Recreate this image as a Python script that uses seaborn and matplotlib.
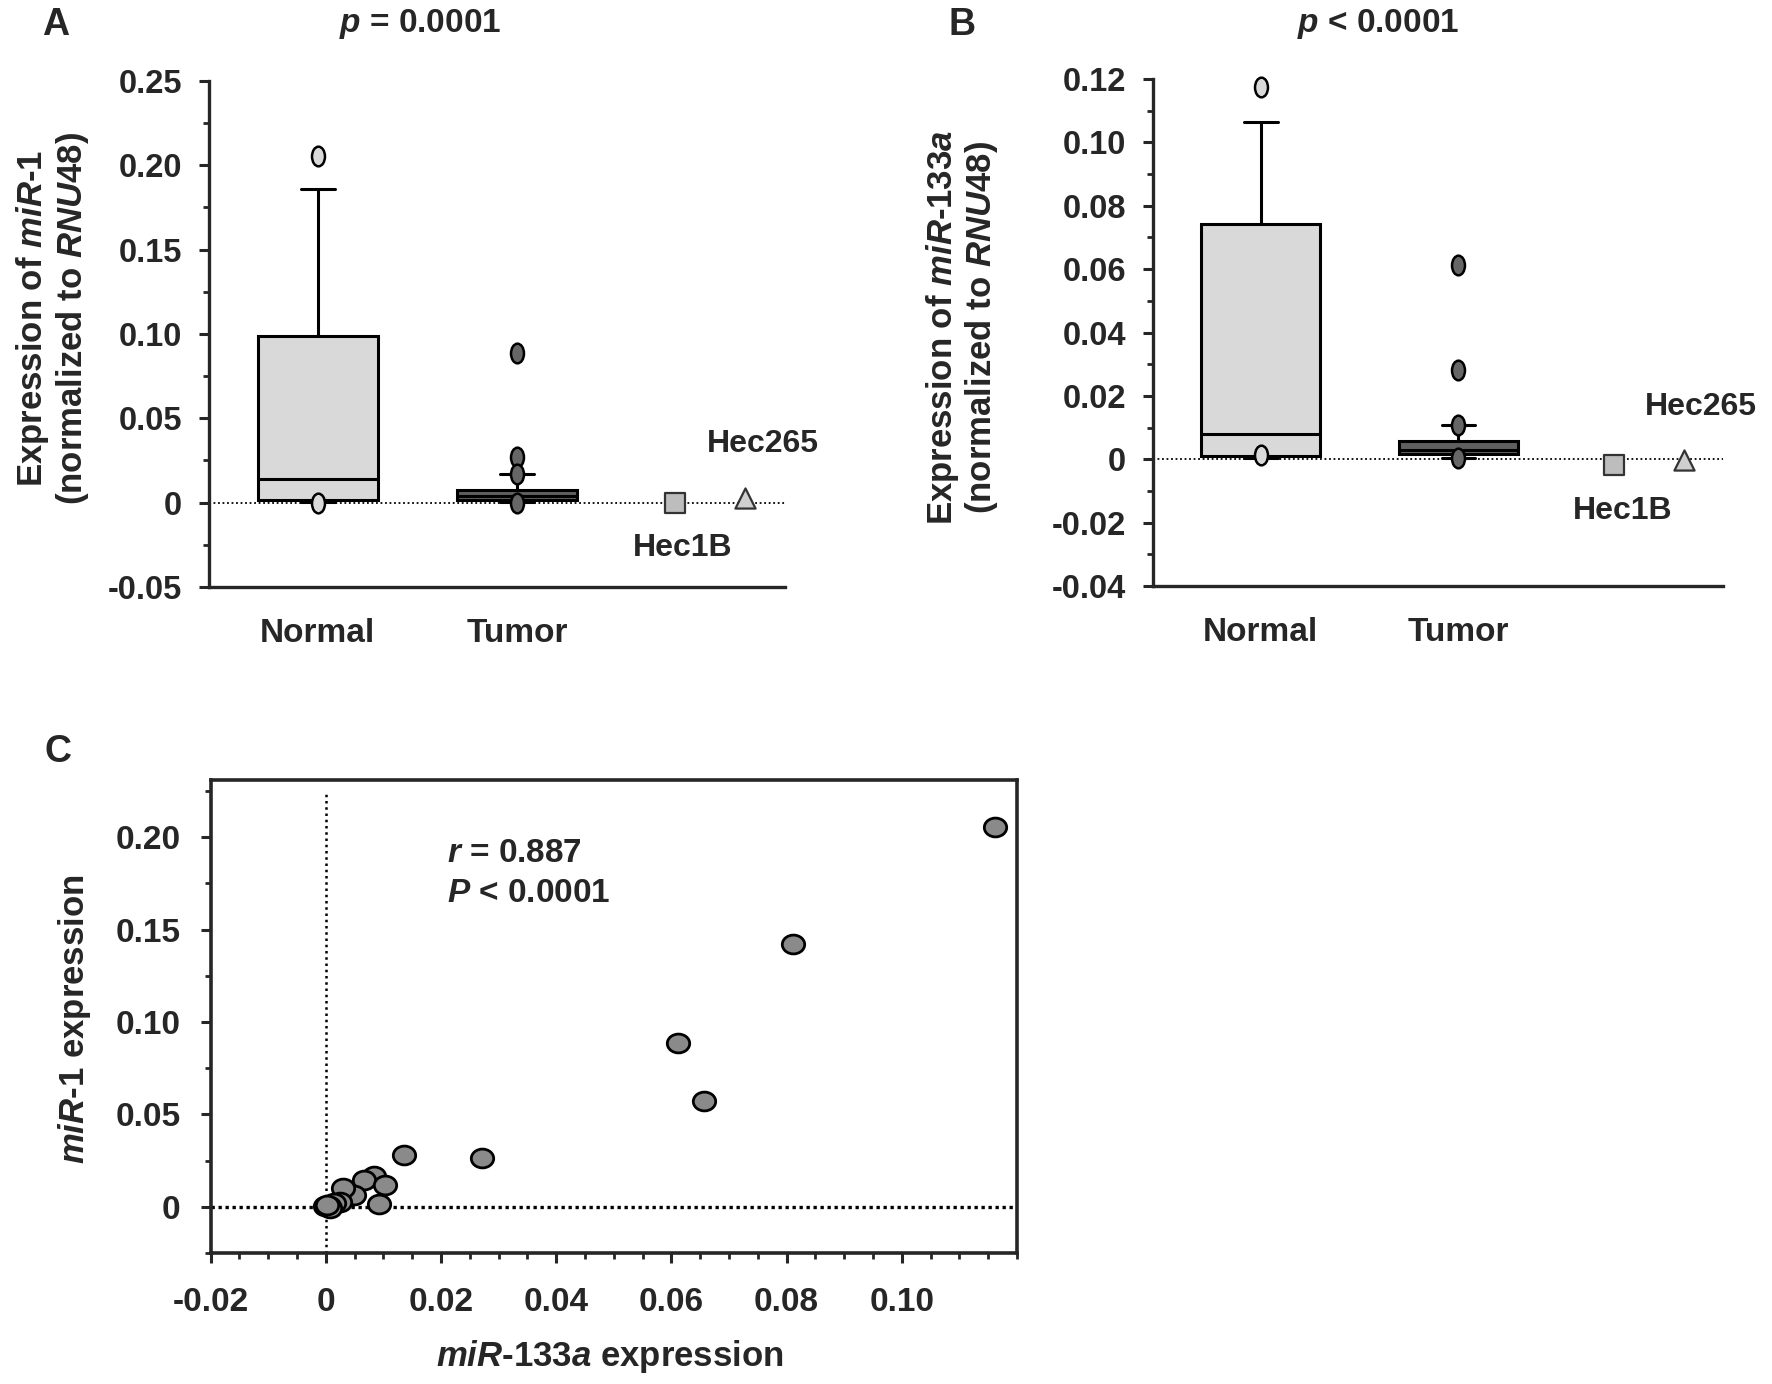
import matplotlib
matplotlib.use('Agg')
import matplotlib.pyplot as plt
from matplotlib.path import Path
import seaborn as sns

# ---- data ----
groups = ['Normal', 'Tumor']
group_pos = [1.0, 2.0]
cell_lines = ['Hec1B', 'Hec265']
cell_pos = [2.79, 3.14]

# panel A, miR-1 (box statistics)
mir1_q1 = [0.0015, 0.0015]
mir1_med = [0.0142, 0.0040]
mir1_q3 = [0.0990, 0.0075]
mir1_lo = [0.0003, 0.0003]
mir1_hi = [0.1860, 0.0168]
mir1_out_normal = [0.2055, 0.0]
mir1_out_tumor = [0.0886, 0.0273, 0.0170, -0.0005]
mir1_cells = [0.0000, 0.0030]
mir1_ticks = [-0.05, 0, 0.05, 0.10, 0.15, 0.20, 0.25]
mir1_ticklabels = ['-0.05', '0', '0.05', '0.10', '0.15', '0.20', '0.25']

# panel B, miR-133a
mir133_q1 = [0.0011, 0.0016]
mir133_med = [0.0080, 0.0028]
mir133_q3 = [0.0741, 0.0058]
mir133_lo = [0.0004, 0.0003]
mir133_hi = [0.1065, 0.0107]
mir133_out_normal = [0.1175, 0.0014]
mir133_out_tumor = [0.0612, 0.0281, 0.0107, 0.0004]
mir133_cells = [-0.0018, -0.0003]
mir133_ticks = [-0.04, -0.02, 0, 0.02, 0.04, 0.06, 0.08, 0.10, 0.12]
mir133_ticklabels = ['-0.04', '-0.02', '0', '0.02', '0.04', '0.06', '0.08', '0.10', '0.12']

# panel C, correlation
scatter_mir133 = [0.1162, 0.0812, 0.0612, 0.0656, 0.0272, 0.0136, 0.0083, 0.0067,
                  0.0103, 0.0093, 0.0049, 0.0030, 0.0025, 0.0014, 0.0006, -0.0002,
                  0.0007, 0.0003]
scatter_mir1 = [0.2055, 0.1422, 0.0884, 0.0573, 0.0263, 0.0281, 0.0167, 0.0142,
                0.0115, 0.0013, 0.0065, 0.0099, 0.0025, 0.0020, 0.0005, 0.0006,
                -0.0005, 0.0012]
c_xticks = [-0.02, 0, 0.02, 0.04, 0.06, 0.08, 0.10]
c_xticklabels = ['-0.02', '0', '0.02', '0.04', '0.06', '0.08', '0.10']
c_yticks = [0, 0.05, 0.10, 0.15, 0.20]
c_yticklabels = ['0', '0.05', '0.10', '0.15', '0.20']

box_fills = ['#d9d9d9', '#5f5f5f']
flier_fills = ['#d9d9d9', '#666666']

sns.set_style('ticks')
plt.rcParams['font.family'] = ['Liberation Sans', 'DejaVu Sans']
plt.rcParams['font.weight'] = 'bold'
plt.rcParams['mathtext.fontset'] = 'custom'
plt.rcParams['mathtext.it'] = 'Liberation Sans:italic:bold'
plt.rcParams['mathtext.rm'] = 'Liberation Sans:bold'
plt.rcParams['mathtext.bf'] = 'Liberation Sans:bold'
plt.rcParams['axes.linewidth'] = 2.2

# ellipse markers (outliers are tall, scatter dots are a bit wide)
circ = Path.unit_circle()
tall_ellipse = Path(circ.vertices * [0.66, 1.0], circ.codes)
wide_ellipse = Path(circ.vertices * [1.0, 0.84], circ.codes)

fig = plt.figure(figsize=(17.72, 13.84), dpi=100)
axA = fig.add_axes([0.1179, 0.5759, 0.3250, 0.3656])
axB = fig.add_axes([0.6507, 0.5766, 0.3217, 0.3663])
axC = fig.add_axes([0.1188, 0.0947, 0.4551, 0.3418])


def box_panel(ax, q1, med, q3, lo, hi, out_normal, out_tumor, cells,
              ticks, ticklabels, minor_step, ylabel, hec265_y, hec1b_y):
    for i, g in enumerate(groups):
        st = dict(label=g, q1=q1[i], med=med[i], q3=q3[i],
                  whislo=lo[i], whishi=hi[i], fliers=[])
        ax.bxp([st], positions=[group_pos[i]], widths=0.6, capwidths=0.17,
               patch_artist=True, showfliers=False,
               boxprops=dict(facecolor=box_fills[i], edgecolor='black', linewidth=2.2),
               medianprops=dict(color='black', linewidth=2.2),
               whiskerprops=dict(color='black', linewidth=2.2),
               capprops=dict(color='black', linewidth=2.2))
    for vals, pos, fill in [(out_normal, group_pos[0], flier_fills[0]),
                            (out_tumor, group_pos[1], flier_fills[1])]:
        sns.scatterplot(x=[pos] * len(vals), y=vals, marker=tall_ellipse, s=200,
                        color=fill, edgecolor='black', linewidth=1.8,
                        ax=ax, zorder=4, legend=False, clip_on=False)
    sns.scatterplot(x=[cell_pos[0]], y=[cells[0]], marker='s', s=190, color='#bdbdbd',
                    edgecolor='#333333', linewidth=1.6, ax=ax, zorder=4, legend=False)
    sns.scatterplot(x=[cell_pos[1]], y=[cells[1]], marker='^', s=210, color='#cfcfcf',
                    edgecolor='#333333', linewidth=1.6, ax=ax, zorder=4, legend=False)
    ax.axhline(0, color='black', lw=1.3, ls=(0, (1, 1.5)), zorder=1)

    ax.set_xlim(0.455, 3.34)
    ax.set_ylim(ticks[0], ticks[-1])
    ax.set_xticks(group_pos)
    ax.set_xticklabels(groups, fontsize=24, fontweight='bold')
    ax.tick_params(axis='x', length=0, pad=22)
    ax.set_yticks(ticks)
    ax.set_yticklabels(ticklabels, fontsize=23.5, fontweight='bold')
    minor = []
    v = ticks[0]
    while v < ticks[-1]:
        minor.append(v + minor_step)
        v += 2 * minor_step
    ax.set_yticks(minor, minor=True)
    ax.tick_params(axis='y', which='major', length=7.5, width=2.2, pad=12)
    ax.tick_params(axis='y', which='minor', length=4, width=2.0)
    sns.despine(ax=ax)
    ax.spines['left'].set_linewidth(2.4)
    ax.spines['bottom'].set_linewidth(2.4)
    ax.set_ylabel(ylabel, fontsize=25, fontweight='bold', linespacing=1.1, va='center')
    ax.text(3.23, hec265_y, 'Hec265', fontsize=23, fontweight='bold', ha='center', va='center')
    ax.text(2.83, hec1b_y, 'Hec1B', fontsize=23, fontweight='bold', ha='center', va='center')


box_panel(axA, mir1_q1, mir1_med, mir1_q3, mir1_lo, mir1_hi, mir1_out_normal,
          mir1_out_tumor, mir1_cells, mir1_ticks, mir1_ticklabels, 0.025,
          'Expression of $\\mathit{miR}$-$\\mathit{1}$\n(normalized to $\\mathit{RNU48}$)',
          0.035, -0.027)
axA.yaxis.set_label_coords(-0.272, 0.53)

box_panel(axB, mir133_q1, mir133_med, mir133_q3, mir133_lo, mir133_hi, mir133_out_normal,
          mir133_out_tumor, mir133_cells, mir133_ticks, mir133_ticklabels, 0.01,
          'Expression of $\\mathit{miR}$-$\\mathit{133a}$\n(normalized to $\\mathit{RNU48}$)',
          0.0164, -0.0164)
axB.yaxis.set_label_coords(-0.335, 0.51)

# panel C
sns.scatterplot(x=scatter_mir133, y=scatter_mir1, marker=wide_ellipse, s=260,
                color='#8a8a8a', edgecolor='black', linewidth=2.0, ax=axC,
                zorder=4, legend=False)
c_ylim = (-0.025, 0.231)
axC.set_xlim(-0.02, 0.12)
axC.set_ylim(*c_ylim)
axC.axhline(0, color='black', lw=2.4, ls=(0, (1, 1.1)), zorder=1)
axC.axvline(0, ymin=0, ymax=(0.225 - c_ylim[0]) / (c_ylim[1] - c_ylim[0]),
            color='black', lw=1.8, ls=(0, (1, 1.5)), zorder=1)
axC.set_xticks(c_xticks)
axC.set_xticklabels(c_xticklabels, fontsize=24, fontweight='bold')
axC.set_xticks([-0.02 + 0.005 * k for k in range(29)], minor=True)
axC.set_yticks(c_yticks)
axC.set_yticklabels(c_yticklabels, fontsize=24, fontweight='bold')
axC.set_yticks([-0.025 + 0.05 * k for k in range(6)], minor=True)
axC.tick_params(which='major', length=7.5, width=2.2)
axC.tick_params(axis='x', which='major', pad=17)
axC.tick_params(axis='y', which='major', pad=14)
axC.tick_params(which='minor', length=4.5, width=2.0)
for sp in axC.spines.values():
    sp.set_linewidth(2.6)
axC.set_xlabel('$\\mathit{miR}$-$\\mathit{133a}$ expression', fontsize=25,
               fontweight='bold', va='center')
axC.xaxis.set_label_coords(0.495, -0.218)
axC.set_ylabel('$\\mathit{miR}$-$\\mathit{1}$ expression', fontsize=25, fontweight='bold', va='center')
axC.yaxis.set_label_coords(-0.169, 0.495)
axC.text(0.021, 0.191, '$\\mathit{r}$ = 0.887', fontsize=24, fontweight='bold', va='center')
axC.text(0.021, 0.1695, '$\\mathit{P}$ < 0.0001', fontsize=24, fontweight='bold', va='center')

# panel letters and p values
fig.text(0.024, 0.982, 'A', fontsize=27, fontweight='bold', va='center')
fig.text(0.535, 0.982, 'B', fontsize=27, fontweight='bold', va='center')
fig.text(0.025, 0.457, 'C', fontsize=27, fontweight='bold', va='center')
fig.text(0.237, 0.983, '$\\mathit{p}$ = 0.0001', fontsize=24, fontweight='bold', ha='center', va='center')
fig.text(0.778, 0.983, '$\\mathit{p}$ < 0.0001', fontsize=24, fontweight='bold', ha='center', va='center')

fig.savefig('out.png', dpi=100, facecolor='white')
